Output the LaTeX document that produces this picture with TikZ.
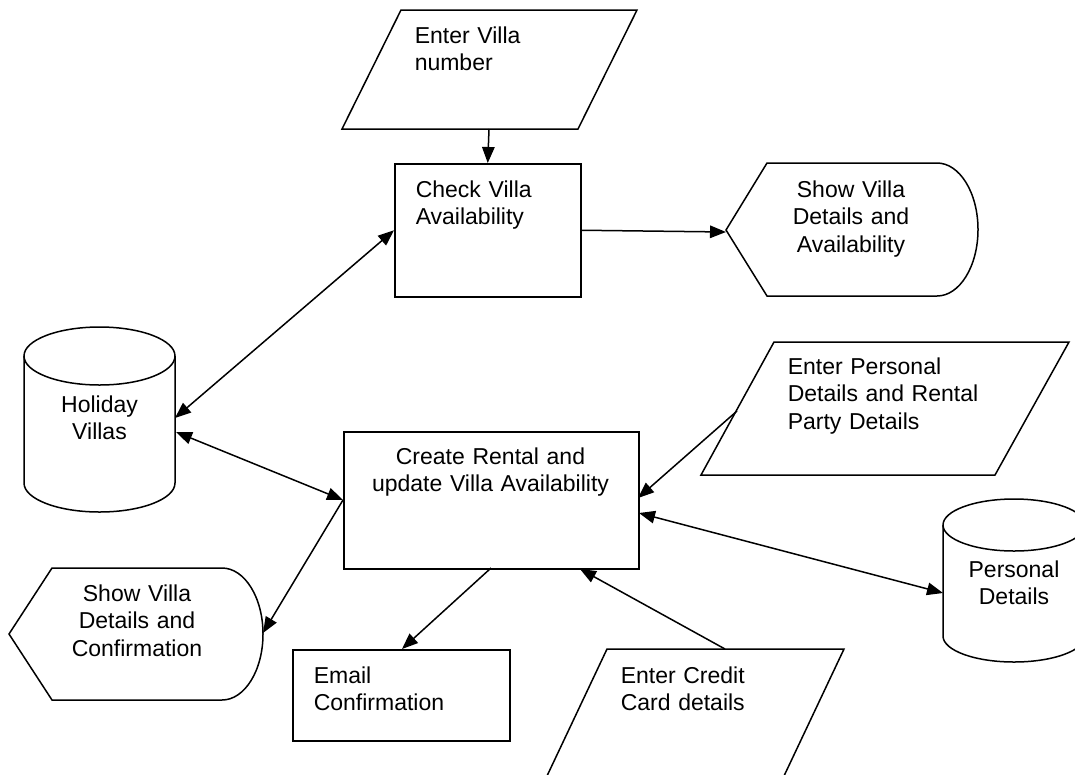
\documentclass[tikz,border=0pt]{standalone}
\usepackage{fontspec}
\setmainfont{Liberation Sans}
\usetikzlibrary{arrows.meta,calc}
\begin{document}
\begin{tikzpicture}[x=1pt,y=-1pt,
  line width=1.5pt,
  >={Triangle[length=16pt,width=12.5pt]},
  shapeline/.style={draw=black,line width=1.5pt,line join=miter},
  boxnode/.style={draw=black,line width=1.5pt,inner sep=0pt,anchor=north west},
  lefttext/.style={inner sep=0pt,anchor=base west,text width=260pt,align=left,font=\fontsize{23}{27.5}\selectfont},
  midtext/.style={inner sep=0pt,anchor=base,text width=300pt,align=center,font=\fontsize{23}{27.5}\selectfont},
  conn/.style={->,line width=1.5pt},
  biconn/.style={<->,line width=1.5pt}]
\useasboundingbox (0,0) rectangle (1075,774);

% ---- shapes ----
% Enter Villa number (input)
\draw[shapeline] (401,10) -- (637,10) -- (578,129) -- (342,129) -- cycle;
\node[lefttext] (tev) at (414,43) {Enter Villa\\number};

% Check Villa Availability (process)
\node[boxnode,minimum width=186pt,minimum height=133pt] (chk) at (394,163) {};
\node[lefttext] (tchk) at (415,197) {Check Villa\\Availability};

% Show Villa Details and Availability (display)
\draw[shapeline] (726,230) -- (767,163) -- (937,163)
  arc[start angle=90,end angle=-90,x radius=41pt,y radius=66.5pt]
  -- (767,296) -- cycle;
\node[midtext] (tsa) at (851,197) {Show Villa\\Details and\\Availability};

% Holiday Villas (store)
\draw[shapeline] (99.5,356) ellipse[x radius=75.5pt,y radius=29pt];
\draw[shapeline] (24,356) -- (24,483)
  arc[start angle=180,end angle=360,x radius=75.5pt,y radius=29pt] -- (175,356);
\node[midtext] (thv) at (99.5,412) {Holiday\\Villas};

% Create Rental and update Villa Availability (process)
\node[boxnode,minimum width=295pt,minimum height=137pt] (cr) at (343,431) {};
\node[midtext] (tcr) at (490.5,464) {Create Rental and\\update Villa Availability};

% Enter Personal Details (input)
\draw[shapeline] (774,342) -- (1069,342) -- (995,475) -- (701,475) -- cycle;
\node[lefttext] (tep) at (787,374) {Enter Personal\\Details and Rental\\Party Details};

% Personal Details (store)
\draw[shapeline] (1014,525) ellipse[x radius=71pt,y radius=26pt];
\draw[shapeline] (943,525) -- (943,636)
  arc[start angle=180,end angle=360,x radius=71pt,y radius=26pt] -- (1085,525);
\node[midtext] (tpd) at (1014,577) {Personal\\Details};

% Show Villa Details and Confirmation (display)
\draw[shapeline] (9,634) -- (52,568) -- (222,568)
  arc[start angle=90,end angle=-90,x radius=41pt,y radius=66pt]
  -- (52,700) -- cycle;
\node[midtext] (tsc) at (137,601) {Show Villa\\Details and\\Confirmation};

% Email Confirmation (process)
\node[boxnode,minimum width=217pt,minimum height=91pt] (em) at (292,649) {};
\node[lefttext] (tem) at (313,683) {Email\\Confirmation};

% Enter Credit Card details (input)
\draw[shapeline] (607,649) -- (844,649) -- (775,795) -- (538,795) -- cycle;
\node[lefttext] (tcc) at (620,683) {Enter Credit\\Card details};

% ---- connection points ----
\coordinate (ev-s) at (489,129);
\coordinate (sa-w) at (726,232);
\coordinate (hv-a) at (175,418);
\coordinate (hv-b) at (176,432);
\coordinate (cr-w) at (343,500);
\coordinate (cr-s) at (491,568);
\coordinate (cr-s2) at (580,569);
\coordinate (cr-e1) at (638,498);
\coordinate (cr-e2) at (639,513);
\coordinate (sc-e) at (263,633);
\coordinate (cc-n) at (725,649);
\coordinate (ep-w) at (737,411);
\coordinate (pd-w) at (943,593);
\coordinate (em-n) at (402,649);

% ---- connectors ----
\draw[conn] (ev-s) -- (chk.north);
\draw[conn] (chk.east) -- (sa-w);
\draw[biconn] (hv-a) -- (chk.west);
\draw[biconn] (hv-b) -- (cr-w);
\draw[conn] (cr-w) -- (sc-e);
\draw[conn] (cr-s) -- (em-n);
\draw[conn] (cc-n) -- (cr-s2);
\draw[conn] (ep-w) -- (cr-e1);
\draw[biconn] (cr-e2) -- (pd-w);
\end{tikzpicture}
\end{document}
